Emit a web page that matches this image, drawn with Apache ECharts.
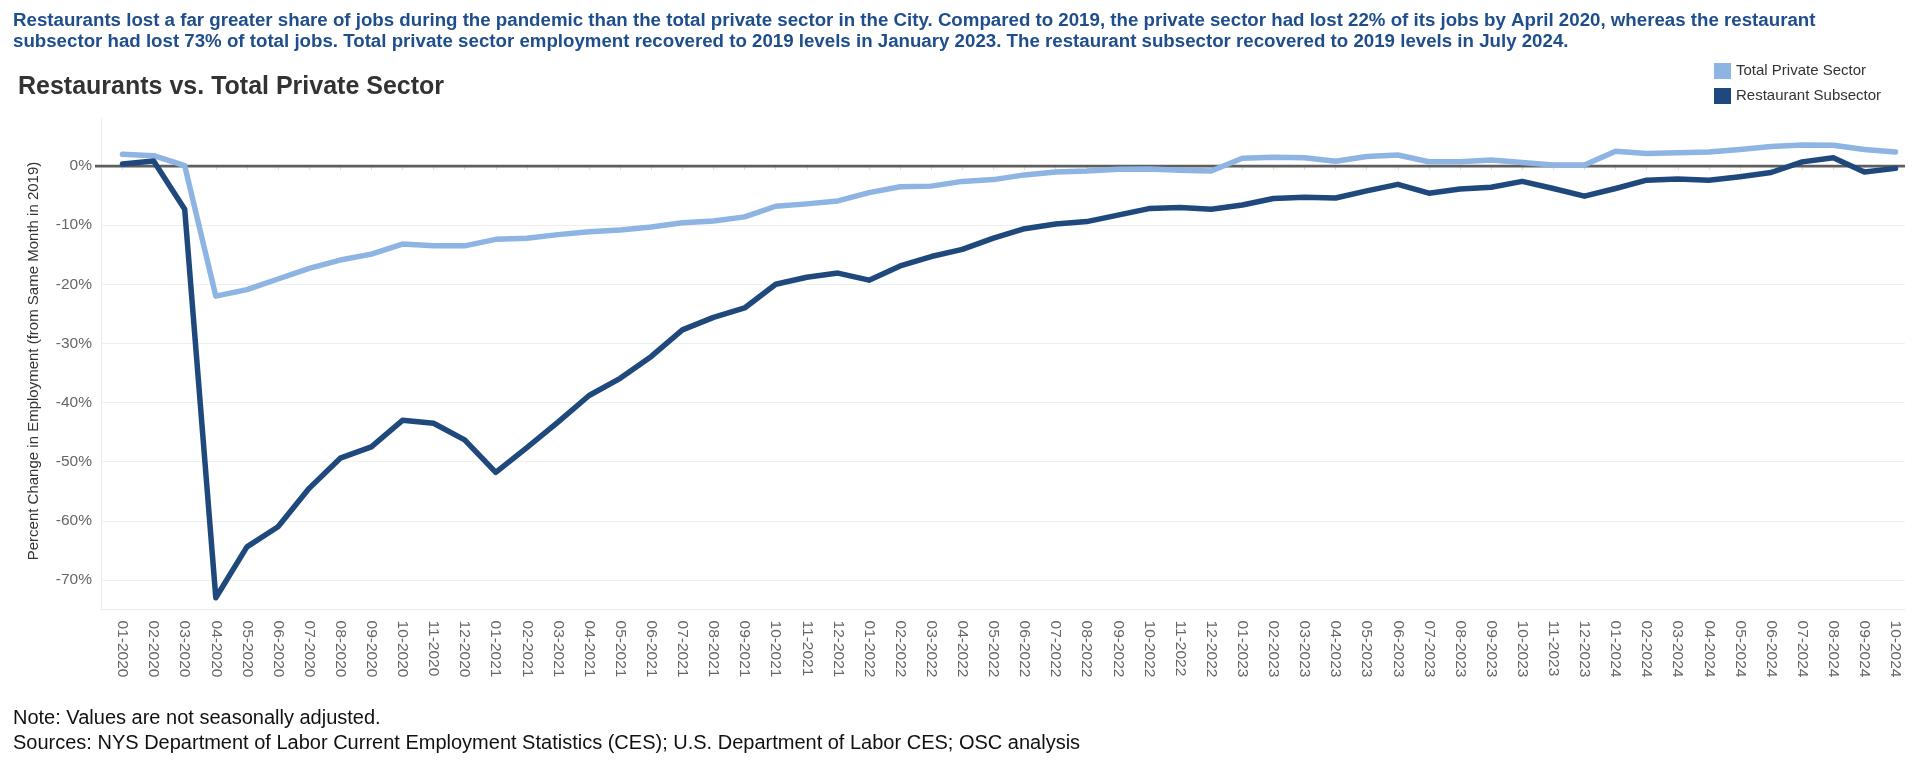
<!DOCTYPE html>
<html><head><meta charset="utf-8">
<script src="https://cdn.jsdelivr.net/npm/echarts@6/dist/echarts.min.js"></script>
<style>html,body{margin:0;padding:0;background:#fff}#c{width:1920px;height:769px}</style>
</head><body><div id="c"></div>
<script>
const months = ['01-2020','02-2020','03-2020','04-2020','05-2020','06-2020','07-2020','08-2020','09-2020','10-2020','11-2020','12-2020',
'01-2021','02-2021','03-2021','04-2021','05-2021','06-2021','07-2021','08-2021','09-2021','10-2021','11-2021','12-2021',
'01-2022','02-2022','03-2022','04-2022','05-2022','06-2022','07-2022','08-2022','09-2022','10-2022','11-2022','12-2022',
'01-2023','02-2023','03-2023','04-2023','05-2023','06-2023','07-2023','08-2023','09-2023','10-2023','11-2023','12-2023',
'01-2024','02-2024','03-2024','04-2024','05-2024','06-2024','07-2024','08-2024','09-2024','10-2024'];

const totalPrivate = [1.97, 1.75, 0.05, -22.0, -20.9, -19.1, -17.3, -15.9, -14.9, -13.2, -13.5, -13.5,
-12.4, -12.2, -11.6, -11.1, -10.8, -10.3, -9.6, -9.3, -8.6, -6.8, -6.4, -5.9,
-4.5, -3.5, -3.4, -2.6, -2.3, -1.5, -1.0, -0.85, -0.56, -0.5, -0.7, -0.85,
1.3, 1.5, 1.4, 0.8, 1.6, 1.86, 0.73, 0.73, 1.0, 0.6, 0.17, 0.17,
2.5, 2.1, 2.25, 2.37, 2.8, 3.3, 3.55, 3.5, 2.8, 2.37];

const restaurant = [0.34, 0.85, -7.3, -73.0, -64.4, -61.0, -54.5, -49.4, -47.5, -43.0, -43.5, -46.3,
-51.8, -47.6, -43.3, -38.8, -35.9, -32.2, -27.7, -25.6, -24.0, -20.0, -18.8, -18.1,
-19.3, -16.9, -15.3, -14.1, -12.2, -10.6, -9.8, -9.4, -8.3, -7.2, -7.0, -7.3,
-6.6, -5.5, -5.3, -5.4, -4.2, -3.1, -4.6, -3.9, -3.6, -2.6, -3.8, -5.1,
-3.8, -2.4, -2.2, -2.4, -1.8, -1.1, 0.7, 1.4, -1.0, -0.4];

const baseline = [[0, 0], [1, 0]];

const FONT = '"Liberation Sans", Arial, sans-serif';
const chart = echarts.init(document.getElementById('c'), null, {renderer: 'canvas'});

chart.setOption({
  animation: false,
  backgroundColor: '#fff',
  textStyle: {fontFamily: FONT},
  legend: {
    data: ['Total Private Sector', 'Restaurant Subsector'],
    orient: 'vertical', left: 1714, top: 63, padding: 0,
    itemWidth: 17, itemHeight: 16, itemGap: 9, icon: 'rect',
    textStyle: {fontSize: 15, color: '#333', fontFamily: FONT}
  },
  grid: [
    {left: 122.5, right: 24.5, top: 118.7, height: 490.9},
    {left: 101, right: 15, top: 166, height: 414},
    {left: 101, right: 15, top: 118.7, height: 490.9},
    {left: 95, right: 15, top: 166, height: 414}
  ],
  xAxis: [
    {gridIndex: 0, type: 'category', data: months, boundaryGap: false,
     axisLine: {show: false},
     axisTick: {show: true, length: 4, interval: 0, lineStyle: {color: '#dcdcdc'}},
     axisLabel: {rotate: -90, interval: 0, margin: 11, fontSize: 15.5, color: '#666', fontFamily: FONT},
     splitLine: {show: false}},
    {gridIndex: 1, type: 'value', show: false, min: 0, max: 1},
    {gridIndex: 2, type: 'value', min: 0, max: 1,
     axisLine: {show: true, lineStyle: {color: '#ebebeb', width: 1}},
     axisTick: {show: false}, axisLabel: {show: false}, splitLine: {show: false}},
    {gridIndex: 3, type: 'value', show: false, min: 0, max: 1}
  ],
  yAxis: [
    {gridIndex: 0, type: 'value', show: false, min: -75, max: 8, splitLine: {show: false}},
    {gridIndex: 1, type: 'value', min: -70, max: 0, interval: 10,
     axisLine: {show: false}, axisTick: {show: false},
     axisLabel: {formatter: '{value}%', margin: 9, fontSize: 15.5, color: '#666', fontFamily: FONT},
     splitLine: {show: true, lineStyle: {color: '#efefef', width: 1}}},
    {gridIndex: 2, type: 'value', min: 0, max: 1,
     axisLine: {show: true, lineStyle: {color: '#ebebeb', width: 1}},
     axisTick: {show: false}, axisLabel: {show: false}, splitLine: {show: false}},
    {gridIndex: 3, type: 'value', show: false, min: -70, max: 0}
  ],
  series: [
    {name: 'zero', type: 'line', xAxisIndex: 3, yAxisIndex: 3, data: baseline,
     symbol: 'none', silent: true, z: 1,
     lineStyle: {color: '#5e5e5e', width: 3}},
    {name: 'Total Private Sector', type: 'line', xAxisIndex: 0, yAxisIndex: 0, data: totalPrivate,
     showSymbol: false, symbol: 'none', z: 2, color: '#8db4e2',
     lineStyle: {color: '#8db4e2', width: 5.5, cap: 'round', join: 'round'}},
    {name: 'Restaurant Subsector', type: 'line', xAxisIndex: 0, yAxisIndex: 0, data: restaurant,
     showSymbol: false, symbol: 'none', z: 3, color: '#1f497d',
     lineStyle: {color: '#1f497d', width: 5.5, cap: 'round', join: 'round'}}
  ],
  graphic: [
    {type: 'text', left: 13, top: 10, style: {
      text: 'Restaurants lost a far greater share of jobs during the pandemic than the total private sector in the City. Compared to 2019, the private sector had lost 22% of its jobs by April 2020, whereas the restaurant\nsubsector had lost 73% of total jobs. Total private sector employment recovered to 2019 levels in January 2023. The restaurant subsector recovered to 2019 levels in July 2024.',
      font: 'bold 18.7px ' + FONT, fill: '#1f4e8c', lineHeight: 21}},
    {type: 'text', x: 18, y: 87.5, style: {
      text: 'Restaurants vs. Total Private Sector', font: 'bold 25px ' + FONT, fill: '#333',
      textVerticalAlign: 'middle'}},
    {type: 'text', x: 34, y: 361, rotation: Math.PI / 2, style: {
      text: 'Percent Change in Employment (from Same Month in 2019)', font: '15px ' + FONT, fill: '#333',
      textAlign: 'center', textVerticalAlign: 'middle'}},
    {type: 'text', left: 13, top: 706, style: {
      text: 'Note: Values are not seasonally adjusted.\nSources: NYS Department of Labor Current Employment Statistics (CES); U.S. Department of Labor CES; OSC analysis',
      font: '20px ' + FONT, fill: '#111', lineHeight: 25}}
  ]
});
</script></body></html>
